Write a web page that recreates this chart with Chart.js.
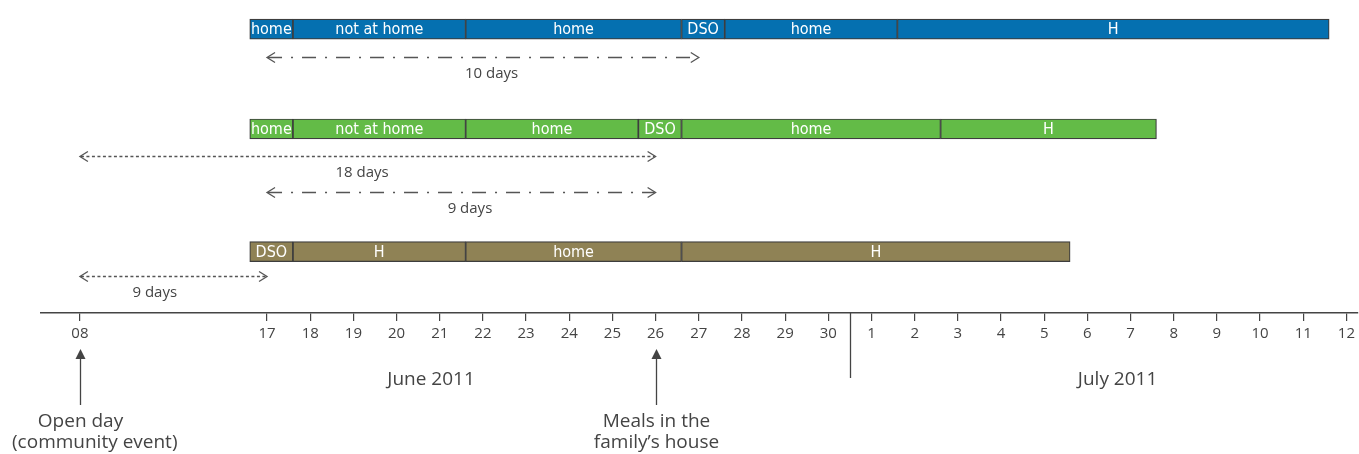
<!DOCTYPE html>
<html>
<head>
  <title>Timeline June–July 2011</title>
  <script src="https://cdn.jsdelivr.net/npm/chart.js@4.4.2/dist/chart.umd.min.js"></script>
  <style>
    body { margin: 0; background: #fff; }
    #wrap { width: 1359px; height: 454px; position: relative; }
  </style>
</head>
<body>
<div id="wrap"><canvas id="timeline"></canvas></div>
<script>
// axis days: June d = d, July d = 30 + d; 8–17 June drawn compressed (axis break)
const juneDays = [8, 17, 18, 19, 20, 21, 22, 23, 24, 25, 26, 27, 28, 29, 30];
const julyDays = [1, 2, 3, 4, 5, 6, 7, 8, 9, 10, 11, 12];
const tickLabels = ['08', '17', '18', '19', '20', '21', '22', '23', '24', '25', '26', '27', '28', '29', '30',
                    '1', '2', '3', '4', '5', '6', '7', '8', '9', '10', '11', '12'];
const monthNames = ['June 2011', 'July 2011'];

// segment edges (axis days) and their labels, one set per row
const blueEdges  = [16.6, 17.6, 21.6, 26.6, 27.6, 31.6, 41.6];
const blueLabels = ['home', 'not at home', 'home', 'DSO', 'home', 'H'];
const greenEdges  = [16.6, 17.6, 21.6, 25.6, 26.6, 32.6, 37.6];
const greenLabels = ['home', 'not at home', 'home', 'DSO', 'home', 'H'];
const brownEdges  = [16.6, 17.6, 21.6, 26.6, 35.6];
const brownLabels = ['DSO', 'H', 'home', 'H'];

// day-span arrows
const spanFrom = ['Jun 17', 'Jun 8', 'Jun 17', 'Jun 8'];
const spanTo   = ['Jun 27', 'Jun 26', 'Jun 26', 'Jun 17'];
const spanText = ['10 days', '18 days', '9 days', '9 days'];

// events under the axis
const eventDates = ['Jun 8', 'Jun 26'];
const eventText = [['Open day', '(community event)'], ['Meals in the', 'family\u2019s house']];

const BREAK_SCALE = 0.4815;
function axisPos(s) {
  const [m, d] = s.split(' ');
  const day = +d;
  if (m === 'Jul') return 30 + day;
  return day >= 17 ? day : 17 - (17 - day) * BREAK_SCALE;
}
const tickValues = juneDays.map(d => axisPos('Jun ' + d)).concat(julyDays.map(d => axisPos('Jul ' + d)));

// layout only
const rowLane = [0.93, 4.12, 8.04];
const spanLane = [1.81, 4.98, 6.12, 8.81];
const spanLabelAt = [22.2, 19.2, 21.7, 14.4];
const spanDash = [[14, 9, 2, 9], [3, 2.5], [14, 9, 2, 9], [3, 2.5]];
const monthAt = [20.8, 36.7];
const INK = '#444';
const FONT = '"Open Sans", sans-serif';

function rowData(edges, lane) {
  const out = [];
  for (let i = 0; i < edges.length - 1; i++) out.push({ x: [edges[i], edges[i + 1]], y: lane });
  return out;
}

const rows = [
  { edges: blueEdges, labels: blueLabels, color: '#0570b0' },
  { edges: greenEdges, labels: greenLabels, color: '#63bb47' },
  { edges: brownEdges, labels: brownLabels, color: '#8f8255' }
];

const barText = {
  id: 'barText',
  afterDatasetsDraw(chart) {
    const ctx = chart.ctx;
    ctx.save();
    ctx.font = '16px "DejaVu Sans Condensed", "DejaVu Sans", sans-serif';
    ctx.fillStyle = '#fff';
    ctx.textAlign = 'center';
    ctx.textBaseline = 'middle';
    chart.data.datasets.forEach((ds, di) => {
      chart.getDatasetMeta(di).data.forEach((el, i) => {
        const p = el.getProps(['x', 'base', 'y'], true);
        ctx.fillText(ds.segLabels[i], (p.x + p.base) / 2, p.y + 1);
      });
    });
    ctx.restore();
  }
};

function openHead(ctx, x, y, dir) {
  ctx.beginPath();
  ctx.moveTo(x - dir * 8, y - 5);
  ctx.lineTo(x, y);
  ctx.lineTo(x - dir * 8, y + 5);
  ctx.stroke();
}

const spans = {
  id: 'spans',
  afterDatasetsDraw(chart) {
    const ctx = chart.ctx, xs = chart.scales.x, ys = chart.scales.y;
    ctx.save();
    ctx.strokeStyle = '#555';
    ctx.lineWidth = 1.3;
    spanText.forEach((t, i) => {
      const x1 = xs.getPixelForValue(axisPos(spanFrom[i]));
      const x2 = xs.getPixelForValue(axisPos(spanTo[i]));
      const y = Math.round(ys.getPixelForValue(spanLane[i])) + 0.5;
      ctx.setLineDash(spanDash[i]);
      ctx.beginPath();
      ctx.moveTo(x1 + 1, y);
      ctx.lineTo(x2 - 1, y);
      ctx.stroke();
      ctx.setLineDash([]);
      openHead(ctx, x1, y, -1);
      openHead(ctx, x2, y, 1);
      ctx.fillStyle = INK;
      ctx.font = '15px ' + FONT;
      ctx.textAlign = 'center';
      ctx.textBaseline = 'middle';
      ctx.fillText(t, xs.getPixelForValue(spanLabelAt[i]), y + 16.5);
    });
    ctx.restore();
  }
};

const underAxis = {
  id: 'underAxis',
  afterDraw(chart) {
    const ctx = chart.ctx, xs = chart.scales.x, b = chart.chartArea.bottom;
    ctx.save();
    ctx.strokeStyle = INK;
    ctx.fillStyle = INK;
    ctx.lineWidth = 1.3;
    // month separator
    const sx = Math.round(xs.getPixelForValue(30.5)) + 0.5;
    ctx.beginPath();
    ctx.moveTo(sx, b);
    ctx.lineTo(sx, b + 65);
    ctx.stroke();
    ctx.font = '19px ' + FONT;
    ctx.textAlign = 'center';
    ctx.textBaseline = 'alphabetic';
    monthNames.forEach((m, i) => ctx.fillText(m, xs.getPixelForValue(monthAt[i]), b + 72));
    // event arrows
    eventDates.forEach((d, i) => {
      const x = Math.round(xs.getPixelForValue(axisPos(d))) + 0.5;
      ctx.beginPath();
      ctx.moveTo(x, b + 92);
      ctx.lineTo(x, b + 44);
      ctx.stroke();
      ctx.beginPath();
      ctx.moveTo(x, b + 36);
      ctx.lineTo(x - 5, b + 46);
      ctx.lineTo(x + 5, b + 46);
      ctx.closePath();
      ctx.fill();
      eventText[i].forEach((line, j) => {
        const w = ctx.measureText(line).width;
        const cx = Math.max(x, 12 + w / 2);
        ctx.fillText(line, cx, b + 114 + j * 21);
      });
    });
    ctx.restore();
  }
};

new Chart(document.getElementById('timeline'), {
  type: 'bar',
  data: {
    datasets: rows.map((r, i) => ({
      data: rowData(r.edges, rowLane[i]),
      segLabels: r.labels,
      backgroundColor: r.color,
      borderColor: '#3d3d3d',
      borderWidth: 1.2,
      borderSkipped: false,
      barThickness: 20,
      grouped: false
    }))
  },
  options: {
    indexAxis: 'y',
    responsive: true,
    maintainAspectRatio: false,
    animation: false,
    layout: { padding: { left: 41, right: 0, top: 0, bottom: 0 } },
    plugins: { legend: { display: false }, tooltip: { enabled: false } },
    scales: {
      x: {
        type: 'linear',
        min: 11.765,
        max: 42.253,
        afterBuildTicks(scale) { scale.ticks = tickValues.map(v => ({ value: v })); },
        afterFit(scale) { scale.height = 141; },
        ticks: {
          autoSkip: false,
          maxRotation: 0,
          padding: 4,
          color: INK,
          font: { family: FONT, size: 15 },
          callback: (v, i) => tickLabels[i]
        },
        grid: { drawOnChartArea: false, drawTicks: true, tickLength: 8, color: INK, lineWidth: 1.2 },
        border: { display: true, color: INK, width: 1.5 }
      },
      y: { type: 'linear', display: false, offset: false, min: 0, max: 10, reverse: true }
    }
  },
  plugins: [barText, spans, underAxis]
});
</script>
</body>
</html>
